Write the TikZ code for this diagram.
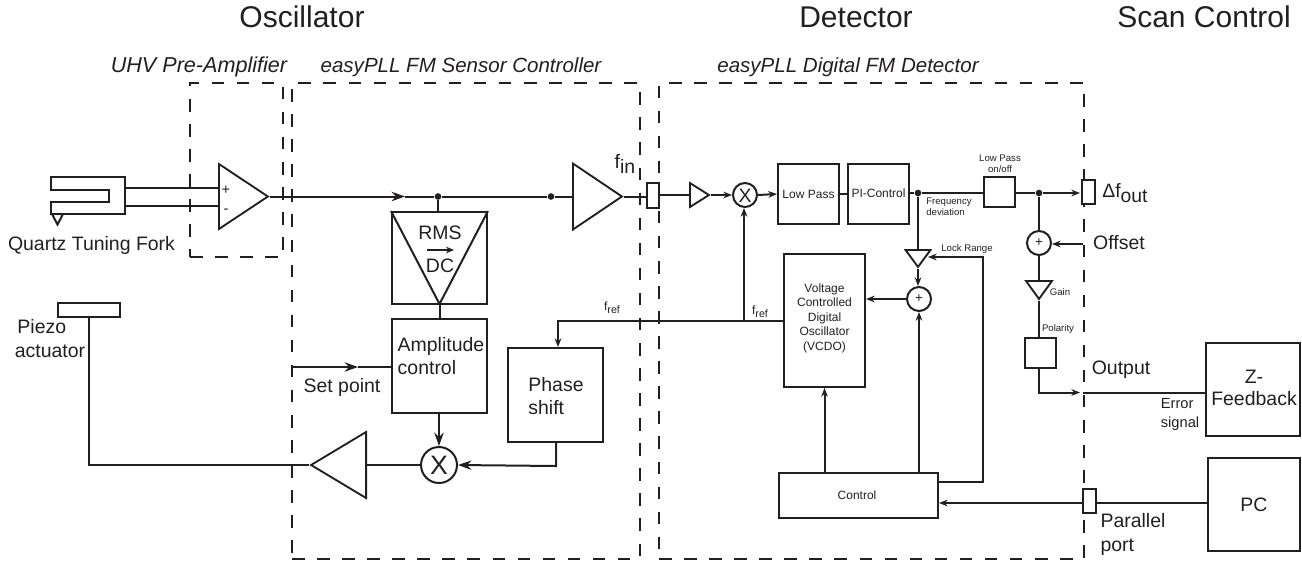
\documentclass[tikz,border=0pt]{standalone}
\usepackage{fontspec}
\setmainfont{Liberation Sans}
\usepackage{xcolor}
\usetikzlibrary{shapes.geometric,arrows.meta,positioning,fit}
\definecolor{ink}{HTML}{231F20}

\begin{document}
\begin{tikzpicture}[
  x=0.75pt, y=-0.75pt, color=ink, text=ink,
  title/.style={font=\fontsize{22.5}{26}\selectfont},
  sect/.style={font=\fontsize{15.4}{18}\selectfont\itshape},
  big/.style={font=\fontsize{14.6}{16}\selectfont, align=left, inner sep=0pt},
  mid/.style={font=\fontsize{11}{14.2}\selectfont, align=left, inner sep=0pt},
  small/.style={font=\fontsize{9}{10.2}\selectfont, align=center, inner sep=0pt},
  tiny/.style={font=\fontsize{7.2}{8.6}\selectfont, align=left, inner sep=0pt},
  zone/.style={draw, line width=1.5pt, dash pattern=on 9.4pt off 9.4pt, inner sep=0pt},
  block/.style={draw, line width=1.5pt, inner sep=0pt},
  port/.style={draw, line width=1.5pt, inner sep=0pt, fill=white},
  amp/.style={draw, isosceles triangle, isosceles triangle stretches, line width=1.4pt,
              inner sep=0pt, anchor=lower side},
  sum/.style={draw, circle, line width=1.5pt, inner sep=0pt, minimum size=18pt, fill=white},
  junc/.style={circle, fill=ink, inner sep=0pt, minimum size=5pt},
  wire/.style={line width=1.5pt},
  ar/.style={-{Stealth[length=6.5pt,width=5pt]}, line width=1.5pt},
  arbig/.style={-{Stealth[length=10pt,width=7pt]}, line width=1.5pt}
]
  \useasboundingbox (0,0) rectangle (1302,562);

  % titles
  \node[title] (tosc) at (302,17) {Oscillator};
  \node[title] (tdet) at (856,17) {Detector};
  \node[title] (tscan) at (1204,17) {Scan Control};
  \node[sect, font=\fontsize{16.2}{18}\selectfont\itshape] (suhv) at (199,67) {UHV Pre-Amplifier};
  \node[sect] (ssens) at (461,67) {easyPLL FM Sensor Controller};
  \node[sect] (sdet) at (848,67) {easyPLL Digital FM Detector};

  % dashed zones
  \node[zone, fit={(190,83) (283,257)}] (zuhv) {};
  \node[zone, fit={(292,83) (640,559)}] (zsens) {};
  \node[zone, fit={(659,83) (1084,559)}] (zdet) {};

  % tuning fork and piezo
  \coordinate (forka) at (125,188);
  \coordinate (forkb) at (125,205.5);
  \draw[wire] (51,177) -- (125,177) -- (125,214) -- (51,214) -- (51,202)
    -- (109,202) -- (109,190) -- (51,190) -- cycle;
  \draw[wire] (52,214) -- (57.5,224.5) -- (63,214);
  \node[big] (lfork) at (91.5,245) {Quartz Tuning Fork};
  \node[block, fit={(58,303) (120,317)}] (piezo) {};
  \node[big, align=left] (lpiezo) at (50,339) {\hspace*{2pt}Piezo\\[2pt]actuator};

  % oscillator path
  \node[amp, minimum height=36.75pt, minimum width=48.75pt] (pre) at (218,196.5) {};
  \node[small, font=\fontsize{11}{12}\selectfont] (lplus) at (226,190) {+};
  \node[small, font=\fontsize{11}{12}\selectfont] (lminus) at (226,211) {-};
  \draw[wire] (forka) -- (forka -| pre.lower side);
  \draw[wire] (forkb) -- (forkb -| pre.lower side);
  \coordinate (mainmid) at (405,196.5);
  \node[junc] (jrms) at (438,196.5) {};
  \node[junc] (jout) at (551,196.5) {};
  \node[amp, minimum height=36.75pt, minimum width=49.5pt] (drv) at (572,196.5) {};
  \draw[arbig] (pre.apex) -- (mainmid);
  \draw[wire] (mainmid) -- (jrms) -- (jout) -- (drv.lower side);

  \node[block, fit={(392,212) (487,304)}] (rms) {};
  \coordinate (rmsin) at (439.5,304);
  \draw[wire] (rms.north west) -- (rmsin) -- (rms.north east);
  \node[big] (lrms) at (440,233) {RMS};
  \node[big] (ldc) at (440,266) {DC};
  \coordinate (rmsa) at (427,250);
  \coordinate (rmsb) at (454,250);
  \draw[-{Stealth[length=6pt,width=5pt]}, line width=1.5pt] (rmsa) -- (rmsb);
  \draw[wire] (jrms) -- (jrms |- rms.north);

  \node[block, fit={(392,319) (487,413)}] (actl) {};
  \node[big] (lactl) at (441,356) {Amplitude\\[1pt]control};
  \draw[wire] (rms.south -| rmsin) -- (actl.north -| rmsin);
  \node[block, fit={(508,348) (603,442)}] (phase) {};
  \node[big] (lphase) at (556,396) {Phase\\[1pt]shift};
  \node[sum, minimum size=27pt] (mix) at (439,465) {};
  \node[big, font=\fontsize{20}{20}\selectfont] (lmix) at (439,465.5) {X};
  \node[amp, rotate=180, minimum height=41.25pt, minimum width=49.5pt] (piezoamp) at (367,465) {};
  \draw[arbig] (actl.south -| mix) -- (mix.north);
  \coordinate (phasecor) at (556,466);
  \draw[arbig] (phase.south -| phasecor) -- (phasecor) -- (mix.east);
  \draw[wire] (mix.west) -- (piezoamp.lower side);
  \coordinate (piezocor) at (89,465);
  \draw[wire] (piezoamp.apex) -- (piezocor) -- (piezocor |- piezo.south);

  % set point
  \coordinate (setin) at (292,367);
  \coordinate (setmid) at (358,367);
  \draw[arbig] (setin) -- (setmid);
  \draw[wire] (setmid) -- (setmid -| actl.west);
  \node[big] (lset) at (342,387) {Set point};

  % detector path
  \node[port, fit={(647,183) (659,208)}] (pfin) {};
  \node[big] (lfin) at (625,164) {f\raisebox{-4pt}{in}};
  \draw[wire] (drv.apex) -- (pfin.west |- drv.apex);
  \node[amp, minimum height=14.25pt, minimum width=18pt] (inamp) at (689,195) {};
  \node[sum] (dmix) at (745,195) {};
  \node[big] (ldmix) at (745,195.5) {X};
  \node[block, fit={(778,164) (839,224)}] (lp) {};
  \node[small] (llp) at (808.5,194) {Low Pass};
  \node[block, fit={(848,164) (909,224)}] (pi) {};
  \node[small] (lpi) at (878.5,193) {PI-Control};
  \draw[wire] (pfin.east |- inamp.lower side) -- (inamp.lower side);
  \draw[ar] (inamp.apex) -- (dmix.west);
  \draw[ar] (dmix.east) -- (lp.west);
  \draw[wire] (lp.east) -- (pi.west);

  \node[junc] (jfreq) at (918,193) {};
  \node[block, fit={(984,177) (1015,207)}] (lpsw) {};
  \node[tiny, align=center] (llpsw) at (1000,164) {Low Pass\\on/off};
  \node[tiny] (lfreq) at (949,207) {Frequency\\deviation};
  \draw[wire] (pi.east |- jfreq) -- (jfreq) -- (lpsw.west |- jfreq);
  \node[port, fit={(1082,180) (1095,204)}] (pdf) {};
  \node[big, font=\fontsize{14.5}{17}\selectfont] (ldf) at (1125,193) {Δf\raisebox{-4pt}{out}};
  \node[junc] (jdf) at (1039,193) {};
  \coordinate (dfin) at (1080,193);
  \draw[ar] (lpsw.east |- jdf) -- (jdf) -- (dfin);

  \node[sum] (soff) at (1039,243) {\fontsize{10}{10}\selectfont +};
  \coordinate (offin) at (1083,244);
  \node[big] (loff) at (1119,243) {Offset};
  \draw[ar] (offin) -- (soff.east |- offin);
  \draw[wire] (jdf) -- (soff.north);
  \node[amp, rotate=-90, minimum height=13.5pt, minimum width=19.5pt] (gain) at (1039,280) {};
  \node[tiny] (lgain) at (1060,292) {Gain};
  \draw[wire] (soff.south) -- (gain.lower side);
  \node[block, fit={(1025,338) (1056,368)}] (pol) {};
  \node[tiny] (lpol) at (1058,329) {Polarity};
  \draw[wire] (gain.apex) -- (gain.apex |- pol.north);

  \coordinate (outcor) at (1039,392.5);
  \coordinate (outgap) at (1080,392.5);
  \coordinate (outin) at (1083,392.5);
  \draw[ar] (pol.south -| outcor) -- (outcor) -- (outgap);
  \node[big] (lout) at (1121,370) {Output};
  \node[block, fit={(1206,343) (1300,436)}] (zfb) {};
  \node[big, align=center] (lzfb) at (1254,388) {Z-\\[1pt]Feedback};
  \draw[wire] (outin) -- (outin -| zfb.west);
  \node[mid] (lerr) at (1180,414.5) {Error\\signal};

  % vcdo loop
  \node[block, fit={(784,254) (865,387)}] (vcdo) {};
  \node[small] (lvcdo) at (824.5,318) {Voltage\\[0.7pt]Controlled\\[0.7pt]Digital\\[0.7pt]Oscillator\\[0.7pt](VCDO)};
  \node[amp, rotate=-90, minimum height=12.75pt, minimum width=18.75pt] (lock) at (918,249) {};
  \node[tiny] (llock) at (967,249) {Lock Range};
  \node[sum] (svco) at (919,299) {\fontsize{10}{10}\selectfont +};
  \node[block, fit={(779,473) (938,518)}] (ctl) {};
  \node[small] (lctl) at (857,495) {Control};
  \draw[wire] (jfreq) -- (lock.lower side);
  \draw[ar] (lock.apex) -- (svco.north -| lock.apex);
  \draw[ar] (svco.west) -- (vcdo.east |- svco);
  \draw[ar] (ctl.north -| svco) -- (svco.south);
  \draw[ar] (ctl.north -| vcdo) -- (vcdo.south);
  \coordinate (lockc) at (983,482);
  \coordinate (locka) at (983,257);
  \coordinate (lockin) at (928,257);
  \draw[ar] (ctl.east |- lockc) -- (lockc) -- (locka) -- (lockin);

  % reference
  \coordinate (reftap) at (744,320.5);
  \coordinate (refcor) at (558,320.5);
  \draw[wire] (vcdo.west |- reftap) -- (reftap);
  \draw[ar] (reftap) -- (dmix.south -| reftap);
  \draw[ar] (reftap) -- (refcor) -- (refcor |- phase.north);
  \node[small] (lfref) at (612,308) {f\raisebox{-2pt}{\fontsize{8}{9}\selectfont ref}};
  \node[small] (lfrefb) at (760,312) {f\raisebox{-2pt}{\fontsize{8}{9}\selectfont ref}};

  % pc
  \node[block, fit={(1208,458) (1300,551)}] (pc) {};
  \node[big] (lpc) at (1254,505) {PC};
  \node[port, fit={(1083,489) (1096,513)}] (ppar) {};
  \coordinate (partap) at (1090,503);
  \draw[wire] (ppar.east |- partap) -- (pc.west |- partap);
  \draw[ar] (ppar.west |- partap) -- (ctl.east |- partap);
  \node[big] (lpar) at (1133,534.5) {Parallel\\[2pt]port};
\end{tikzpicture}
\end{document}
